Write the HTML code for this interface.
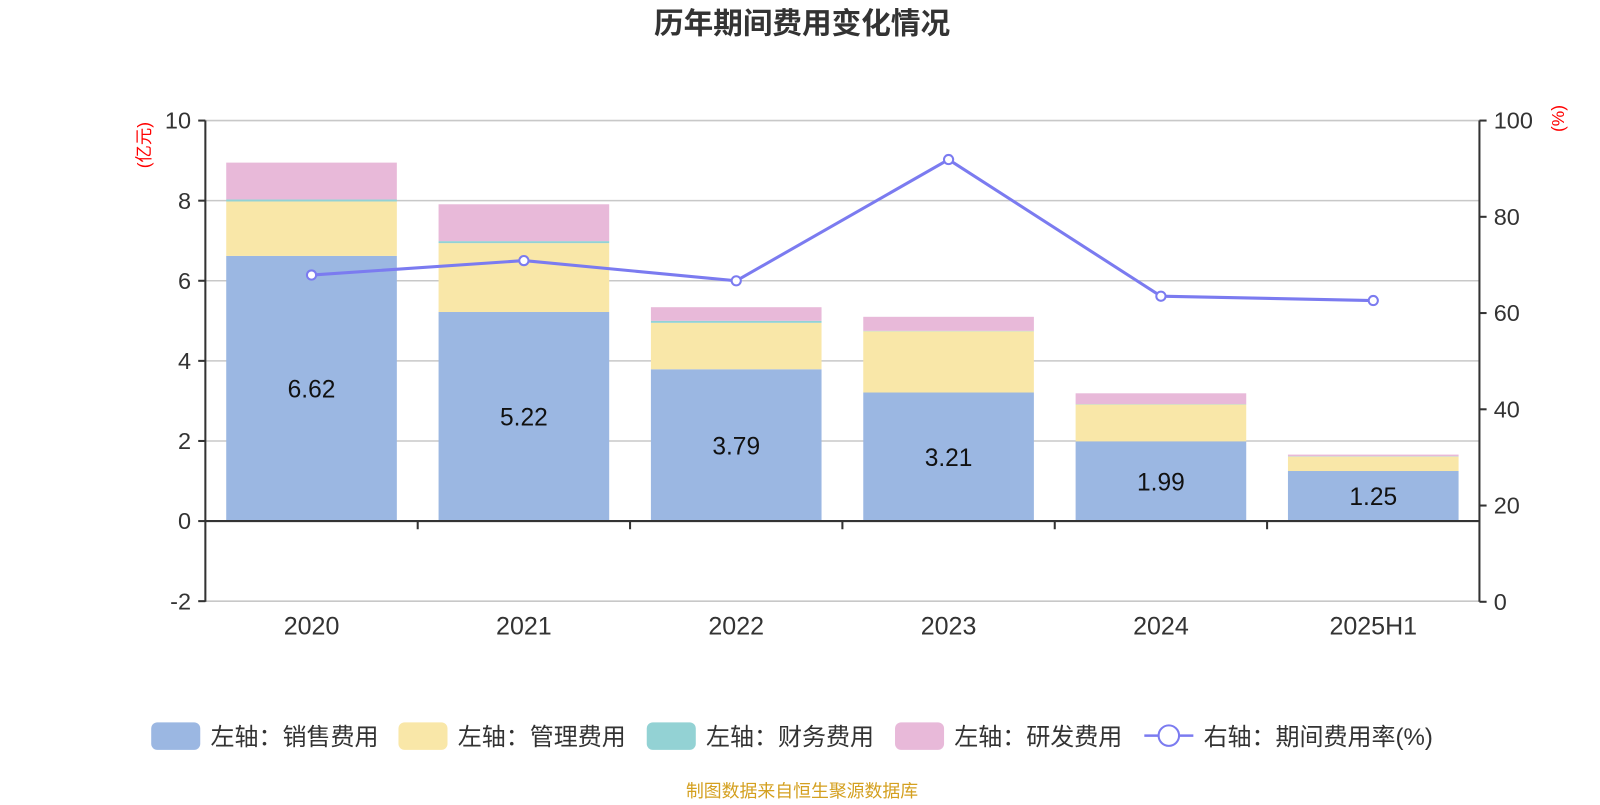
<!DOCTYPE html>
<html><head><meta charset="utf-8"><style>
body{margin:0;background:#fff;}
svg text{font-family:"Liberation Sans","Noto Sans CJK SC",sans-serif;}
</style></head><body>
<svg id="chart" width="1600" height="800" viewBox="0 0 1566 783" xmlns="http://www.w3.org/2000/svg">
<text x="785" y="33" text-anchor="middle" font-size="29" font-weight="bold" fill="#333">历年期间费用变化情况</text>
<text transform="translate(147,142) rotate(-90)" text-anchor="middle" font-size="17" fill="#f00">(亿元)</text>
<text transform="translate(1531,116) rotate(-90)" text-anchor="middle" font-size="17" fill="#f00">(%)</text>
<g id="grid"></g><g id="bars"></g><g id="axes"></g><g id="line"></g>
<g id="legend" font-size="23.5" fill="#333">
<rect x="148" y="707" width="48" height="27" rx="6" fill="#9bb7e2"/><text x="206" y="729">左轴：销售费用</text>
<rect x="390" y="707" width="48" height="27" rx="6" fill="#f9e7a8"/><text x="448" y="729">左轴：管理费用</text>
<rect x="633" y="707" width="48" height="27" rx="6" fill="#93d2d4"/><text x="691" y="729">左轴：财务费用</text>
<rect x="876" y="707" width="48" height="27" rx="6" fill="#e8b9d9"/><text x="934" y="729">左轴：研发费用</text>
<line x1="1120" y1="720" x2="1168" y2="720" stroke="#7b7bf0" stroke-width="2.5"/><circle cx="1144" cy="720" r="10" fill="#fff" stroke="#7b7bf0" stroke-width="2"/><text x="1178" y="729">右轴：期间费用率(%)</text>
</g>
<text x="785" y="780" text-anchor="middle" font-size="17.5" fill="#d4a020">制图数据来自恒生聚源数据库</text>
</svg>
<script>
const categories=["2020","2021","2022","2023","2024","2025H1"];
const sales=[6.62,5.22,3.79,3.21,1.99,1.25];
const admin=[1.36,1.72,1.16,1.53,0.92,0.36];
const finance=[0.05,0.05,0.05,0.01,0.01,0.01];
const rd=[0.92,0.92,0.34,0.35,0.27,0.04];
const rate=[67.9,70.9,66.7,91.9,63.5,62.6];
const leftTicks=[-2,0,2,4,6,8,10];
const rightTicks=[0,20,40,60,80,100];
const NS="http://www.w3.org/2000/svg";
const L=201,R=1448,T=118,B=589;
const yL=v=>510-(v)*39.2;
const yR=v=>B-(v)*(B-T)/100;
const band=(R-L)/categories.length;
const xC=i=>L+band*(i+0.5);
function mk(p,tag,a){const e=document.createElementNS(NS,tag);for(const k in a)e.setAttribute(k,a[k]);document.getElementById(p).appendChild(e);return e;}
leftTicks.forEach(t=>{
 if(t!==0){const g=mk('grid','line',{x1:L,x2:R,y1:yL(t),y2:yL(t),stroke:'#c8c8c8','stroke-width':1.5});
 
 }
 const tk=mk('axes','line',{x1:L-7,x2:L,y1:yL(t),y2:yL(t),stroke:'#333','stroke-width':2});
 
 
 const tx=mk('axes','text',{x:L-14,y:yL(t)+8,'text-anchor':'end','font-size':23,fill:'#333'});tx.textContent=t;
 
 
});
rightTicks.forEach(t=>{
 const tk=mk('axes','line',{x1:R,x2:R+7,y1:yR(t),y2:yR(t),stroke:'#333','stroke-width':2});
 
 
 const tx=mk('axes','text',{x:R+14,y:yR(t)+8,'font-size':23,fill:'#333'});tx.textContent=t;
 
 
});
const series=[[sales,'#9bb7e2','sales'],[admin,'#f9e7a8','admin'],[finance,'#93d2d4','finance'],[rd,'#e8b9d9','rd']];
const bw=167;
categories.forEach((c,i)=>{
 let base=0;
 series.forEach(([arr,col,nm])=>{
  const v=arr[i];
  const r=mk('bars','rect',{x:xC(i)-bw/2,y:yL(base+v),width:bw,height:v*39.2,fill:col});
  
  
  base+=v;
 });
 const lb=mk('bars','text',{x:xC(i),y:yL(sales[i]/2)+9,'text-anchor':'middle','font-size':24,fill:'#111'});lb.textContent=sales[i].toFixed(2);
 
 
 const cl=mk('axes','text',{x:xC(i),y:621,'text-anchor':'middle','font-size':24.5,fill:'#333'});cl.textContent=c;
 
 
 if(i>0){const tk=mk('axes','line',{x1:L+band*i,x2:L+band*i,y1:510,y2:518,stroke:'#333','stroke-width':2});
 
 }
});
[[L,T,L,B],[R,T,R,B],[L,510,R,510]].forEach(([a,b,c,d])=>{
 const ln=mk('axes','line',{x1:a,y1:b,x2:c,y2:d,stroke:'#333','stroke-width':2});
 
 
});
const pl=mk('line','polyline',{points:rate.map((v,i)=>xC(i)+','+yR(v)).join(' '),fill:'none',stroke:'#7b7bf0','stroke-width':3});


rate.forEach((v,i)=>{
 const p=mk('line','circle',{cx:xC(i),cy:yR(v),r:4.5,fill:'#fff',stroke:'#7b7bf0','stroke-width':2});
 
 
});
</script>
</body></html>
